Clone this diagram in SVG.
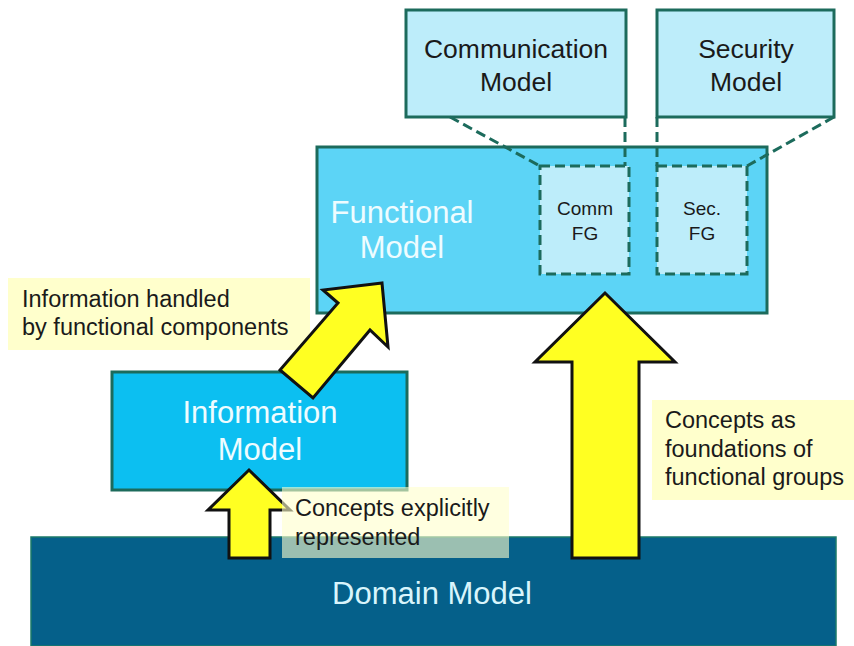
<svg xmlns="http://www.w3.org/2000/svg" width="854" height="646" viewBox="0 0 854 646">
<style>
.box{stroke:#1c6b5c;stroke-width:3}
.top{fill:#bdedfa}
.dash{fill:none;stroke:#1c6b5c;stroke-width:3;stroke-dasharray:10 5}
.arrow{fill:#ffff22;stroke:#111;stroke-width:3;stroke-linejoin:miter}
.lbl{fill:#ffffcc}
text{font-family:"Liberation Sans",Arial,sans-serif}
.dk{fill:#1a1a1a}
.wt{fill:#eefcff}
</style>
<rect width="854" height="646" fill="#ffffff"/>
<g id="domain-model">
<rect x="31" y="537" width="805" height="109" fill="#05608a" stroke="#1b7a6a" stroke-width="1.5"/>
<text x="432" y="604" font-size="31" text-anchor="middle" fill="#d9f5fc">Domain Model</text>
</g>
<g id="functional-model">
<rect class="box" x="317" y="147" width="450" height="166" fill="#5cd4f6"/>
<text class="wt" x="402" y="223" font-size="31" text-anchor="middle">Functional</text>
<text class="wt" x="402" y="258" font-size="31" text-anchor="middle">Model</text>
</g>
<g id="information-model">
<rect class="box" x="112" y="372" width="295" height="118" fill="#0cbff1"/>
<text class="wt" x="260" y="423" font-size="31" text-anchor="middle">Information</text>
<text class="wt" x="260" y="460" font-size="31" text-anchor="middle">Model</text>
</g>
<g id="communication-model">
<rect class="box top" x="406" y="10" width="220" height="107"/>
<text class="dk" x="516" y="58" font-size="26.5" text-anchor="middle">Communication</text>
<text class="dk" x="516" y="91" font-size="26.5" text-anchor="middle">Model</text>
</g>
<g id="security-model">
<rect class="box top" x="657" y="10" width="177" height="107"/>
<text class="dk" x="746" y="58" font-size="26.5" text-anchor="middle">Security</text>
<text class="dk" x="746" y="91" font-size="26.5" text-anchor="middle">Model</text>
</g>
<g id="label-information-handled">
<rect class="lbl" x="8" y="278" width="302" height="72"/>
<text class="dk" x="22" y="307" font-size="23.5">Information handled</text>
<text class="dk" x="22" y="335" font-size="23.5">by functional components</text>
</g>
<g id="label-concepts-foundations">
<rect class="lbl" x="652" y="400" width="202" height="100"/>
<text class="dk" x="665" y="428" font-size="23.5">Concepts as</text>
<text class="dk" x="665" y="457" font-size="23.5">foundations of</text>
<text class="dk" x="665" y="485" font-size="23.5">functional groups</text>
</g>
<g id="connectors">
<path class="dash" d="M450 117 L540 166 M625 117 L625 166 M657 117 L657 166 M834 117 L747 166"/>
<polygon class="arrow" points="382,283 323,290 338,303 280,370 313,398 370,330 388,347"/>
<polygon class="arrow" points="249,470 208,510 229,510 229,558 270,558 270,510 290,510"/>
<polygon class="arrow" points="605,293 535,362 572,362 572,558 639,558 639,362 675,362"/>
</g>
<g id="comm-fg">
<rect class="dash" x="540" y="166" width="89" height="108" style="fill:#bdedfa"/>
<text class="dk" x="585" y="215" font-size="19" text-anchor="middle">Comm</text>
<text class="dk" x="585" y="240" font-size="19" text-anchor="middle">FG</text>
</g>
<g id="sec-fg">
<rect class="dash" x="657" y="166" width="90" height="108" style="fill:#bdedfa"/>
<text class="dk" x="702" y="215" font-size="19" text-anchor="middle">Sec.</text>
<text class="dk" x="702" y="240" font-size="19" text-anchor="middle">FG</text>
</g>
<g id="label-concepts-explicitly">
<rect x="282" y="487" width="227" height="71" fill="#ffffcc" fill-opacity="0.6"/>
<text class="dk" x="295" y="516" font-size="23.5">Concepts explicitly</text>
<text class="dk" x="295" y="545" font-size="23.5">represented</text>
</g>
</svg>
